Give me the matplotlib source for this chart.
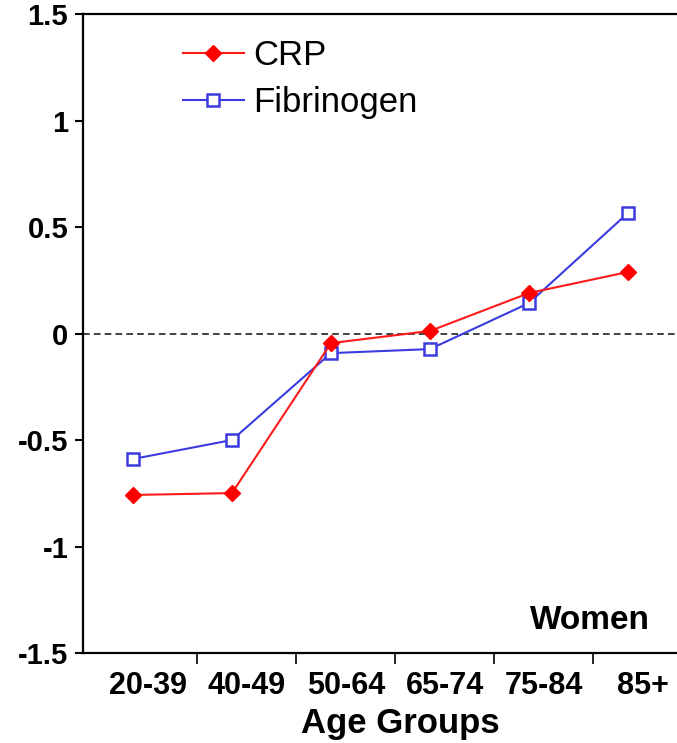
import numpy as np
import matplotlib
matplotlib.use("Agg")
import matplotlib.pyplot as plt

# data
age_groups = ["20-39", "40-49", "50-64", "65-74", "75-84", "85+"]
crp = [-0.758, -0.749, -0.045, 0.012, 0.19, 0.289]
fibrinogen = [-0.589, -0.50, -0.092, -0.073, 0.143, 0.566]
y_ticks = [-1.5, -1, -0.5, 0, 0.5, 1, 1.5]
y_tick_labels = ["-1.5", "-1", "-0.5", "0", "0.5", "1", "1.5"]

plt.rcParams['font.family'] = ['Liberation Sans', 'DejaVu Sans']

fig = plt.figure(figsize=(6.77, 7.43), dpi=100)
ax = fig.add_axes([0.1233, 0.1211, 0.8774, 0.86])

x = np.arange(len(age_groups))

ax.axhline(0, color='#222222', lw=1.2, ls=(0, (4, 2.5)), zorder=1)

ax.plot(x, crp, color='#ff1a1a', lw=1.5, marker='D', markersize=8,
        markerfacecolor='#ff0000', markeredgecolor='#ff0000', label='CRP', zorder=3)
ax.plot(x, fibrinogen, color='#3b3bdf', lw=1.5, marker='s', markersize=8,
        markerfacecolor='white', markeredgecolor='#3b3bdf', markeredgewidth=1.8,
        label='Fibrinogen', zorder=2)

ax.set_xlim(-0.5, 5.5)
ax.set_ylim(-1.5, 1.5)

# y axis
ax.set_yticks(y_ticks)
ax.set_yticklabels(y_tick_labels, fontsize=21, fontweight='bold')
ax.tick_params(axis='y', direction='out', length=6, width=1.5, pad=5)

# x axis: tick marks between groups, labels slightly offset
ax.set_xticks(x[:-1] + 0.65)
ax.set_xticklabels([])
ax.set_xticks(x + 0.15, minor=True)
ax.set_xticklabels(age_groups, minor=True, fontsize=22, fontweight='bold')
ax.tick_params(axis='x', which='major', direction='out', length=8, width=1.2)
ax.tick_params(axis='x', which='minor', length=0, pad=13)

ax.set_xlabel("Age Groups", fontsize=25, fontweight='bold')
ax.xaxis.set_label_coords(0.533, -0.085)

for side in ['left', 'bottom', 'top']:
    ax.spines[side].set_linewidth(1.6)
ax.spines['right'].set_visible(False)

ax.text(0.953, 0.037, "Women", transform=ax.transAxes, ha='right', va='baseline',
        fontsize=24, fontweight='bold')

leg = ax.legend(loc='upper left', bbox_to_anchor=(0.1675, 0.961), frameon=False,
                fontsize=25, handlelength=1.75, handletextpad=0.27, labelspacing=0.41,
                numpoints=1, borderpad=0, borderaxespad=0)

fig.savefig("out.png", dpi=100)
